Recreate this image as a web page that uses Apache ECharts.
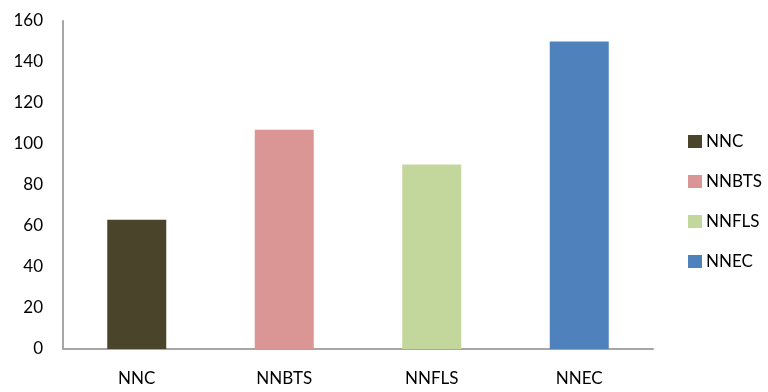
<!DOCTYPE html>
<html>
<head>
<meta charset="utf-8">
<script src="https://cdn.jsdelivr.net/npm/echarts@6/dist/echarts.min.js"></script>
<style>
  html, body { margin: 0; padding: 0; background: #fff; }
  #chart { width: 768px; height: 392px; }
</style>
</head>
<body>
<div id="chart"></div>
<script>
// Categories and one value per method
const categories = ['NNC', 'NNBTS', 'NNFLS', 'NNEC'];
const values = [63, 107, 90, 150];
const colors = ['#4A452A', '#D99694', '#C3D69B', '#4F81BD'];
const yTicks = { min: 0, max: 160, interval: 20 };

const fontFamily = 'Lato, "Open Sans", sans-serif';

// One series per method, stacked so each bar sits centred on its own category
const series = categories.map((name, i) => ({
  name: name,
  type: 'bar',
  stack: 'all',
  barWidth: '40%',
  itemStyle: { color: colors[i] },
  data: categories.map((_, j) => (j === i ? values[i] : '-'))
}));

const chart = echarts.init(document.getElementById('chart'), null, { renderer: 'canvas' });
chart.setOption({
  animation: false,
  backgroundColor: '#fff',
  textStyle: { fontFamily: fontFamily },
  grid: { left: 63, right: 115, top: 21, bottom: 43, containLabel: false },
  legend: {
    orient: 'vertical',
    left: 688,
    top: 133,
    padding: 0,
    itemWidth: 14,
    itemHeight: 13,
    itemGap: 23,
    icon: 'rect',
    textStyle: { fontSize: 17, color: '#000', lineHeight: 13, padding: [0, 0, 0, -1] },
    data: categories
  },
  xAxis: {
    type: 'category',
    data: categories,
    axisLine: { lineStyle: { color: '#a6a6a6', width: 2 } },
    axisTick: { show: false },
    axisLabel: { color: '#000', fontSize: 17, margin: 21 }
  },
  yAxis: {
    type: 'value',
    min: yTicks.min,
    max: yTicks.max,
    interval: yTicks.interval,
    axisLine: { show: true, lineStyle: { color: '#a6a6a6', width: 2 } },
    axisTick: { show: false },
    splitLine: { show: false },
    axisLabel: { color: '#000', fontSize: 17, margin: 20 }
  },
  series: series
});
</script>
</body>
</html>
